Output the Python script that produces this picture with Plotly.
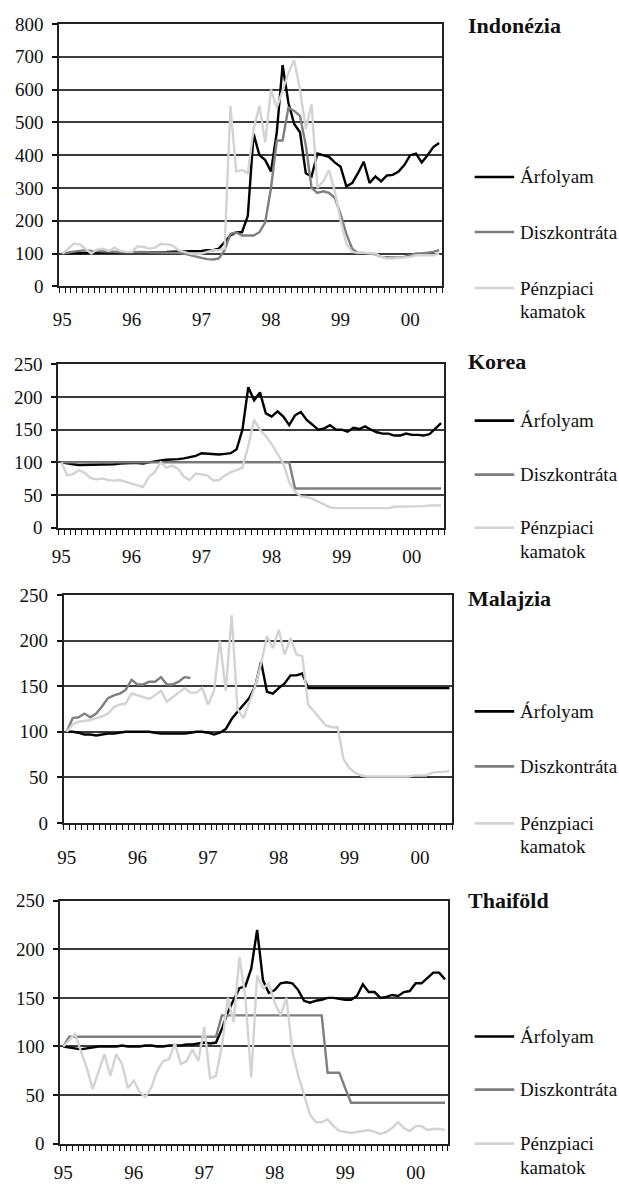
import plotly.graph_objects as go

W, H = 619, 1189

# monthly categories, Jan 1995 - Jun 2000
months = list(range(66))
year_pos = [0, 12, 24, 36, 48, 60]
year_labels = ["95", "96", "97", "98", "99", "00"]

series_names = ["Árfolyam", "Diszkontráta", "Pénzpiaci"]
series_colors = ["#000000", "#7f7f7f", "#d3d3d3"]

# Indonézia
idn_arfolyam = [100, 100, 101, 101, 102, 102, 102, 103, 103, 103,
                103, 104, 104, 104, 104, 105, 105, 105, 105, 106,
                106, 106, 107, 107, 108, 110, 110, 115, 135, 155,
                165, 165, 215, 465, 400, 385, 350, 470, 675, 560,
                495, 470, 345, 335, 405, 400, 395, 378, 365, 305,
                315, 345, 380, 315, 335, 320, 338, 340, 350, 370,
                400, 405, 378, 400, 425, 437]
idn_diszkont = [100, 104, 106, 108, 110, 108, 107, 106, 106, 105,
                105, 104, 104, 105, 105, 104, 104, 103, 103, 102,
                102, 100, 95, 90, 87, 83, 82, 85, 110, 160,
                165, 155, 155, 155, 165, 195, 300, 445, 445, 545,
                535, 520, 430, 300, 285, 290, 285, 270, 220, 160,
                115, 102, 102, 100, 98, 90, 88, 88, 88, 90,
                95, 100, 100, 102, 105, 110]
idn_penzpiac = [100, 115, 130, 128, 115, 100, 112, 115, 108, 118,
                108, 105, 105, 122, 120, 115, 118, 130, 128, 125,
                110, 105, 100, 98, 100, 105, 110, 110, 115, 550,
                350, 355, 345, 480, 550, 440, 600, 545, 600, 650,
                690, 600, 480, 555, 300, 320, 355, 290, 200, 130,
                105, 102, 102, 102, 100, 90, 85, 85, 87, 88,
                90, 95, 95, 95, 95, 100]

# Korea
kor_arfolyam = [100, 98, 97, 96, 96, 96, 96, 96, 97, 97,
                98, 99, 99, 99, 98, 100, 102, 103, 104, 104,
                105, 106, 108, 110, 114, 113, 113, 112, 113, 114,
                120, 150, 215, 195, 207, 175, 170, 178, 170, 157,
                172, 177, 165, 157, 150, 152, 157, 150, 150, 147,
                153, 151, 155, 150, 146, 144, 144, 141, 141, 144,
                142, 142, 141, 143, 152, 160]
kor_diszkont = [100] * 40 + [60] * 26
kor_penzpiac = [100, 80, 82, 88, 84, 76, 74, 75, 73, 72,
                73, 70, 68, 65, 62, 78, 85, 100, 92, 95,
                90, 78, 73, 83, 82, 80, 72, 73, 80, 85,
                88, 92, 125, 165, 150, 140, 128, 112, 98, 70,
                55, 48, 47, 44, 40, 35, 31, 30, 30, 30,
                30, 30, 30, 30, 30, 30, 30, 32, 32, 32,
                32, 32, 33, 34, 34, 34]

# Malajzia
mal_arfolyam = [100, 100, 99, 97, 97, 96, 97, 98, 98, 99,
                100, 100, 100, 100, 100, 99, 98, 98, 98, 98,
                98, 99, 100, 100, 99, 97, 99, 103, 114, 122,
                130, 137, 150, 177, 144, 142, 148, 153, 162, 162,
                164] + [148] * 25
mal_diszkont = [100, 115, 116, 120, 116, 120, 128, 137, 140, 142,
                146, 157, 152, 152, 155, 155, 160, 152, 152, 155,
                160, 159] + [None] * 44
mal_penzpiac = [100, 108, 111, 112, 113, 115, 117, 120, 127, 130,
                131, 142, 140, 138, 136, 140, 145, 133, 138, 143,
                148, 143, 143, 148, 130, 145, 200, 145, 228, 125,
                115, 132, 150, 175, 205, 192, 212, 185, 203, 185,
                183, 130, 122, 115, 107, 105, 105, 70, 60, 55,
                52, 51, 51, 51, 51, 51, 51, 51, 51, 52,
                52, 52, 55, 56, 56, 57]

# Thaiföld
tha_arfolyam = [100, 99, 98, 97, 98, 99, 100, 100, 100, 100,
                101, 100, 100, 100, 101, 101, 100, 100, 101, 101,
                101, 102, 102, 103, 104, 103, 104, 118, 135, 148,
                160, 162, 180, 220, 168, 155, 158, 165, 166, 165,
                158, 147, 145, 147, 148, 150, 150, 149, 148, 148,
                152, 164, 156, 156, 150, 151, 153, 152, 156, 157,
                165, 165, 170, 176, 176, 169]
tha_diszkont = [100] + [110] * 26 + [132] * 18 + [73] * 3 + [57] + [42] * 17
tha_penzpiac = [100, 106, 113, 95, 78, 56, 75, 92, 70, 92,
                82, 57, 65, 53, 48, 58, 75, 85, 87, 103,
                82, 85, 97, 85, 120, 67, 70, 100, 150, 125,
                192, 150, 68, 173, 160, 165, 145, 132, 150, 95,
                70, 50, 30, 22, 22, 25, 18, 13, 12, 11,
                12, 13, 14, 12, 10, 12, 16, 22, 16, 13,
                18, 18, 14, 15, 15, 14]

SERIF = "Liberation Serif, Tinos, Times New Roman, DejaVu Serif, serif"


def fx(p):
    return p / W


def fy(p):
    return 1 - p / H


panels = [
    dict(title="Indonézia", data=(idn_arfolyam, idn_diszkont, idn_penzpiac),
         ymax=800, dtick=100, box=(53, 440, 14.3, 281.3), title_y=16,
         legend_y=(170, 226, 283), xlab_standoff=15),
    dict(title="Korea", data=(kor_arfolyam, kor_diszkont, kor_penzpiac),
         ymax=250, dtick=50, box=(52, 442, 360.7, 527), title_y=358,
         legend_y=(418, 473, 527), xlab_standoff=10),
    dict(title="Malajzia", data=(mal_arfolyam, mal_diszkont, mal_penzpiac),
         ymax=250, dtick=50, box=(57.5, 450.5, 595.7, 827.5), title_y=599,
         legend_y=(714, 770, 828), xlab_standoff=16),
    dict(title="Thaiföld", data=(tha_arfolyam, tha_diszkont, tha_penzpiac),
         ymax=250, dtick=50, box=(54, 446, 906.7, 1154), title_y=907,
         legend_y=(1045, 1099, 1154), xlab_standoff=11),
]

fig = go.Figure()
shapes = []
annotations = []
layout_axes = {}

for k, p in enumerate(panels, start=1):
    xa = "x" if k == 1 else f"x{k}"
    ya = "y" if k == 1 else f"y{k}"
    left, right, top, bottom = p["box"]

    for name, color, values in zip(series_names, series_colors, p["data"]):
        fig.add_trace(go.Scatter(
            x=months, y=values, mode="lines", name=name,
            line=dict(color=color, width=2.4),
            xaxis=xa, yaxis=ya, showlegend=False, hoverinfo="skip",
        ))

    layout_axes["xaxis" if k == 1 else f"xaxis{k}"] = dict(
        domain=[fx(left), fx(right)], anchor=ya,
        range=[-0.5, 65.5], tickmode="array",
        tickvals=year_pos, ticktext=year_labels,
        ticks="outside", ticklen=0.01, tickwidth=0.01, tickcolor="white",
        showgrid=False, zeroline=False,
        showline=True, linecolor="#222222", linewidth=2, mirror=True,
        tickfont=dict(family=SERIF, size=19, color="#111111"),
        ticklabelstandoff=p["xlab_standoff"],
        minor=dict(tickmode="linear", tick0=-0.5, dtick=1, ticks="outside",
                   ticklen=5, tickwidth=1.2, tickcolor="#111111", showgrid=False),
    )
    layout_axes["yaxis" if k == 1 else f"yaxis{k}"] = dict(
        domain=[fy(bottom), fy(top)], anchor=xa,
        range=[0, p["ymax"]], tickmode="linear", tick0=0, dtick=p["dtick"],
        ticks="outside", ticklen=5, tickwidth=1.5, tickcolor="#111111",
        showgrid=True, gridcolor="#3c3c3c", gridwidth=1.6, zeroline=False,
        showline=True, linecolor="#222222", linewidth=2, mirror=True,
        tickfont=dict(family=SERIF, size=19, color="#111111"),
        ticklabelstandoff=5,
    )

    annotations.append(dict(
        text=f"<b>{p['title']}</b>", x=fx(464), y=fy(p["title_y"]),
        xref="paper", yref="paper", xanchor="left", yanchor="middle",
        showarrow=False, font=dict(family=SERIF, size=22, color="#111111"),
    ))

    for name, color, ly in zip(series_names, series_colors, p["legend_y"]):
        shapes.append(dict(
            type="line", xref="paper", yref="paper",
            x0=fx(473), x1=fx(513), y0=fy(ly), y1=fy(ly),
            line=dict(color=color, width=2.6),
        ))
        annotations.append(dict(
            text=name, x=fx(517), y=fy(ly), xref="paper", yref="paper",
            xanchor="left", yanchor="middle", showarrow=False,
            font=dict(family=SERIF, size=19, color="#111111"),
        ))
    annotations.append(dict(
        text="kamatok", x=fx(517), y=fy(p["legend_y"][2] + 24),
        xref="paper", yref="paper", xanchor="left", yanchor="middle",
        showarrow=False, font=dict(family=SERIF, size=19, color="#111111"),
    ))

fig.update_layout(
    width=W, height=H, autosize=False,
    margin=dict(l=0, r=0, t=0, b=0),
    paper_bgcolor="white", plot_bgcolor="white",
    shapes=shapes, annotations=annotations,
    **layout_axes,
)

fig.write_html("out.html")
